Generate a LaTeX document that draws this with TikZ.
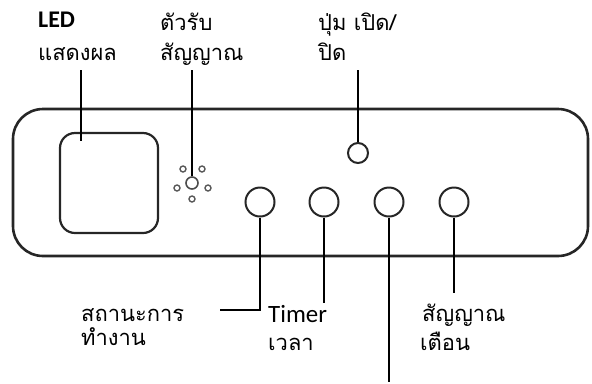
\documentclass[tikz,border=0pt]{standalone}
\usepackage{fontspec}
\setmainfont{Carlito}
\newfontfamily\thaifont[Script=Thai]{Loma}
\newfontfamily\latinfont{Carlito}
\begin{document}
\begin{tikzpicture}[x=1bp,y=-1bp,
  panel/.style={draw=black!85, line width=2.6bp},
  btn/.style={circle, draw=black!85, line width=2bp, inner sep=0pt},
  dot/.style={circle, draw=black!65, line width=1.4bp, inner sep=0pt, minimum size=6bp},
  lead/.style={draw=black, line width=2.4bp},
  thai/.style={font=\thaifont\fontsize{22}{26}\selectfont, inner sep=0pt, anchor=base west},
  latin/.style={inner sep=0pt, anchor=base west}]
\useasboundingbox (0,0) rectangle (592,383);

% front panel and display window
\draw[panel, rounded corners=30bp] (13,109) rectangle (588,256);
\node[draw=black!85, line width=2.2bp, rounded corners=15bp,
      minimum width=98bp, minimum height=100bp] (screen) at (109,183) {};

% remote receiver with its ring of small dots
\node[btn, line width=1.6bp, draw=black!70, minimum size=12bp] (rx) at (192,183) {};
\node[dot] (d1) at (183,169) {};
\node[dot] (d2) at (202,169) {};
\node[dot] (d3) at (177,188) {};
\node[dot] (d4) at (208,188) {};
\node[dot] (d5) at (192,199) {};

% buttons
\node[btn, minimum size=20bp] (pwr) at (358,153) {};
\node[btn, minimum size=29bp] (b1) at (260,202) {};
\node[btn, minimum size=29bp] (b2) at (324,202) {};
\node[btn, minimum size=29bp] (b3) at (389,202) {};
\node[btn, minimum size=29bp] (b4) at (454,202) {};

% labels
\node[latin, font=\latinfont\bfseries\fontsize{24}{28}\selectfont] (tled) at (38,27) {LED};
\node[thai] (tled2) at (38,60) {แสดงผล};
\node[thai] (trx) at (160,30) {ตัวรับ};
\node[thai] (trx2) at (160,60) {สัญญาณ};
\node[thai] (tpwr) at (318,30) {ปุ่ม เปิด/};
\node[thai] (tpwr2) at (318,60) {ปิด};
\node[thai] (tst) at (81,321) {สถานะการ};
\node[thai] (tst2) at (81,345) {ทำงาน};
\node[latin, font=\latinfont\fontsize{25}{30}\selectfont] (ttm) at (268,322) {Timer};
\node[thai] (ttm2) at (268,350) {เวลา};
\node[thai] (tal) at (422,321) {สัญญาณ};
\node[thai] (tal2) at (420,350) {เตือน};

% leader lines
\coordinate (cled) at (81,70);
\coordinate (cledend) at (81,141);
\coordinate (crx) at (192,70);
\coordinate (cpwr) at (358,70);
\coordinate (c1a) at (260,310);
\coordinate (c1b) at (220,310);
\coordinate (c2) at (324,303);
\coordinate (c3) at (389,382);
\coordinate (c4) at (454,293);

\draw[lead] (cled) -- (cledend);
\draw[lead] (crx) -- (rx.north);
\draw[lead] (cpwr) -- (pwr.north);
\draw[lead] (b1.south) -- (c1a) -- (c1b);
\draw[lead] (b2.south) -- (c2);
\draw[lead] (b3.south) -- (c3);
\draw[lead] (b4.south) -- (c4);
\end{tikzpicture}
\end{document}
